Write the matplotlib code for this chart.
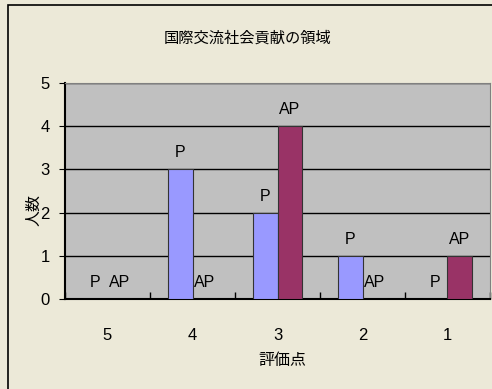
import matplotlib
matplotlib.use("Agg")
import matplotlib.pyplot as plt
from matplotlib import font_manager
import numpy as np

categories = ["5", "4", "3", "2", "1"]
p_values = [0, 3, 2, 1, 0]
ap_values = [0, 0, 4, 0, 1]
series_names = ["P", "AP"]
title = "国際交流社会貢献の領域"
xlabel = "評価点"
ylabel = "人数"

names = {f.name for f in font_manager.fontManager.ttflist}
latin = "Liberation Sans Narrow" if "Liberation Sans Narrow" in names else "Liberation Sans"
fams = [latin, "Noto Sans CJK JP", "DejaVu Sans"]
plt.rcParams["font.family"] = fams

W, H = 492, 389
fig = plt.figure(figsize=(W / 100, H / 100), dpi=100)
fig.patch.set_facecolor("#ECE9D8")
# outer chart frame
fig.add_artist(plt.Rectangle((8 / W, -0.1), 1.2, 1 - 5 / H + 0.1, transform=fig.transFigure,
                             fill=False, edgecolor="black", linewidth=1.2))

left, right, top, bottom = 65, 490, 83, 299
ax = fig.add_axes([left / W, 1 - bottom / H, (right - left) / W, (bottom - top) / H])
ax.set_facecolor("#C0C0C0")

x = np.arange(len(categories))
bw = 0.29
ax.set_axisbelow(True)
ax.yaxis.grid(True, color="black", linewidth=1)
bp = ax.bar(x - bw / 2, p_values, bw, color="#9999FF", edgecolor="#333333", linewidth=0.8, zorder=3)
ba = ax.bar(x + bw / 2, ap_values, bw, color="#993366", edgecolor="#333333", linewidth=0.8, zorder=3)
for bars, name in ((bp, series_names[0]), (ba, series_names[1])):
    for b in bars:
        ax.annotate(name, (b.get_x() + b.get_width() / 2, b.get_height()), xytext=(0, 6.5),
                    textcoords="offset points", ha="center", va="bottom", fontsize=11.5)

ax.set_xlim(-0.5, len(categories) - 0.5)
ax.set_ylim(0, 5)
ax.set_yticks(range(0, 6))
ax.set_xticks(x)
ax.set_xticklabels(categories, fontsize=12)
ax.set_xticks(np.arange(len(categories) + 1) - 0.5, minor=True)
ax.tick_params(axis="x", which="major", length=0, pad=21)
ax.tick_params(axis="x", which="minor", direction="in", length=5, width=1)
ax.tick_params(axis="y", direction="out", length=4, labelsize=12, pad=7)
for s in ("top", "right"):
    ax.spines[s].set_color("#808080")
for s in ("left", "bottom"):
    ax.spines[s].set_color("black")
    ax.spines[s].set_linewidth(1.5)

fig.text(248 / W, 1 - 38 / H, title, ha="center", va="center", fontsize=11, family=fams)
fig.text(282 / W, 1 - 360 / H, xlabel, ha="center", va="center", fontsize=11.5, family=fams)
fig.text(34 / W, 1 - 210 / H, ylabel, ha="center", va="center", fontsize=11.5, rotation=90, family=fams)

fig.savefig("out.png", dpi=100, facecolor=fig.get_facecolor())
